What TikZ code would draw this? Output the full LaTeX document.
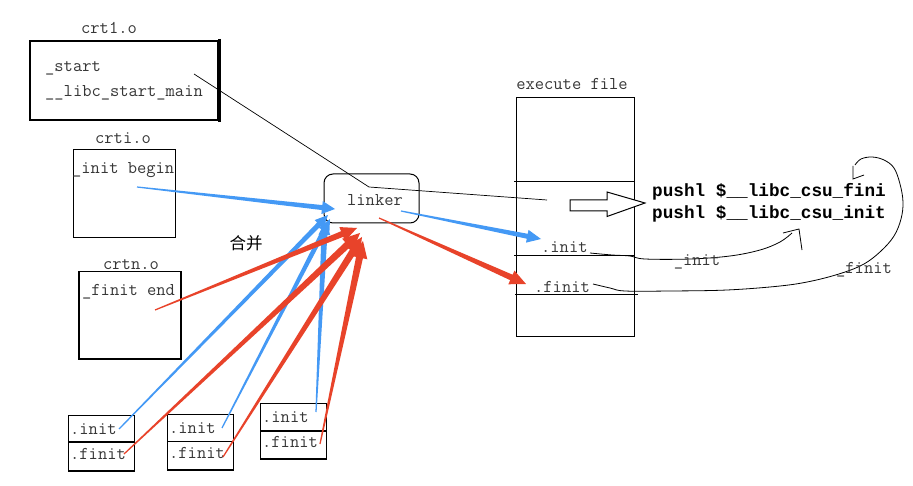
\documentclass[tikz,border=0pt]{standalone}
\usepackage{fontspec}
\newfontfamily\cjk{Noto Sans CJK SC}
\newfontfamily\pushfont{Liberation Mono}
\usetikzlibrary{calc}
\definecolor{arrblue}{RGB}{68,153,245}
\definecolor{arrred}{RGB}{232,67,42}
\definecolor{txtgray}{RGB}{55,55,55}
% #1 start, #2 tip, #3 colour, #4 shaft half width, #5 head length, #6 head half width
\newcommand\taper[6]{%
  \path ($(#2)!#5!(#1)$) coordinate (tpN);
  \fill[#3] ($(#1)!0.6pt!90:(#2)$) -- ($(tpN)!#4!90:(#2)$) -- ($(tpN)!#6!90:(#2)$) -- (#2)
    -- ($(tpN)!#6!-90:(#2)$) -- ($(tpN)!#4!-90:(#2)$) -- ($(#1)!0.6pt!-90:(#2)$) -- cycle;
}
\begin{document}
\begin{tikzpicture}[x=1pt,y=-1pt,
  box/.style={draw, line width=1.3pt, inner sep=0pt},
  lbl/.style={inner sep=0pt, text=txtgray, font=\ttfamily\fontsize{18}{20}\selectfont},
  thinln/.style={draw, line width=0.7pt},
  hand/.style={draw, line width=0.8pt, smooth, tension=0.6}]
\useasboundingbox (0,0) rectangle (913,486);
\fill[white] (0,0) rectangle (913,486);

% crt1.o
\node[lbl] (t1) at (109,28) {crt1.o};
\node[box, line width=2pt, minimum width=188pt, minimum height=79pt] (crt1) at (124,80.5) {};
\draw[line width=3pt] ($(crt1.north east)+(0,-1)$) -- ($(crt1.south east)+(0,1)$);
\node[lbl, anchor=west] (st) at (45,68) {\_start};
\node[lbl, anchor=west] (lsm) at (45,93) {\_\_libc\_start\_main};

% crti.o
\node[lbl] (t2) at (123,138) {crti.o};
\node[box, minimum width=102pt, minimum height=88pt] (crti) at (124.5,193.5) {};
\node[lbl, anchor=west] (ib) at (72,170) {\_init begin};

% crtn.o
\node[lbl] (t3) at (131,265) {crtn.o};
\node[box, minimum width=102pt, minimum height=87.5pt] (crtn) at (130,315.25) {};
\node[lbl, anchor=west] (fe) at (82,292) {\_finit end};

% small boxes
\node[box, minimum width=66pt, minimum height=26.5pt] (b1i) at (101.5,428.75) {};
\node[box, minimum width=66pt, minimum height=29pt] (b1f) at (101.5,456.5) {};
\node[lbl, anchor=west] (b1it) at (70,429) {.init};
\node[lbl, anchor=west] (b1ft) at (70,454) {.finit};

\node[box, minimum width=66pt, minimum height=27pt] (b2i) at (200.5,428) {};
\node[box, minimum width=66pt, minimum height=28.5pt] (b2f) at (200.5,455.75) {};
\node[lbl, anchor=west] (b2it) at (169,428) {.init};
\node[lbl, anchor=west] (b2ft) at (169,453) {.finit};

\node[box, minimum width=66pt, minimum height=27.5pt] (b3i) at (293.5,417.25) {};
\node[box, minimum width=66pt, minimum height=28pt] (b3f) at (293.5,445) {};
\node[lbl, anchor=west] (b3it) at (262,417) {.init};
\node[lbl, anchor=west] (b3ft) at (262,442) {.finit};

% linker
\node[draw, line width=1pt, rounded corners=9pt, minimum width=95pt, minimum height=49pt, inner sep=0pt] (lk) at (371.5,198.5) {};
\node[lbl] (lkt) at (375,200) {linker};

% execute file
\node[lbl] (t4) at (572,84) {execute file};
\node[draw, line width=1pt, minimum width=118pt, minimum height=239pt, inner sep=0pt] (exe) at (575,217.5) {};
\coordinate (e1a) at (514,182); \coordinate (e1b) at (634,182);
\coordinate (e2a) at (514,255.5); \coordinate (e2b) at (634,255.5);
\coordinate (e3a) at (515,295); \coordinate (e3b) at (638,295);
\draw[line width=1pt] (e1a) -- (e1b);
\draw[line width=1pt] (e2a) -- (e2b);
\draw[line width=1pt] (e3a) -- (e3b);
\node[lbl, anchor=west] (eit) at (541,247) {.init};
\node[lbl, anchor=west] (eft) at (534,287) {.finit};

% thin black line crt1 -> linker -> exe
\coordinate (c1s) at (194,74);
\coordinate (lkA) at (369,187);
\coordinate (lkB) at (547,200);
\draw[thinln] (c1s) -- (lkA) -- (lkB);

% hollow arrow
\draw[line width=1pt, fill=white] (570,200) -- (607,200) -- (607,192) -- (645,203) -- (607,216.5) -- (607,211) -- (570,211) -- cycle;

% pushl texts
\node[anchor=west, inner sep=0pt, font=\pushfont\bfseries\fontsize{17.7}{20}\selectfont] (p1) at (652,192) {pushl \$\_\_libc\_csu\_fini};
\node[anchor=west, inner sep=0pt, font=\pushfont\bfseries\fontsize{17.7}{20}\selectfont] (p2) at (652,214) {pushl \$\_\_libc\_csu\_init};

% merge label
\node[inner sep=0pt, font=\cjk\fontsize{16.5}{18}\selectfont] (hb) at (246,243) {合并};

% tapered arrows: start/end coordinates
\coordinate (s1) at (137,187);   \coordinate (e1) at (335,209);
\coordinate (s2) at (119,429);   \coordinate (e2) at (328,215);
\coordinate (s3) at (222,428);   \coordinate (e3) at (330,219);
\coordinate (s4) at (316,412);   \coordinate (e4) at (325,222);
\coordinate (s5) at (401,211);   \coordinate (e5) at (541,239);
\coordinate (r1) at (155,310);   \coordinate (f1) at (357,228);
\coordinate (r2) at (124,454);   \coordinate (f2) at (360,233);
\coordinate (r3) at (223,457);   \coordinate (f3) at (362,237);
\coordinate (r4) at (320,444);   \coordinate (f4) at (363,241);
\coordinate (r5) at (379,218);   \coordinate (f5) at (526,284);

\taper{s1}{e1}{arrblue}{2.5pt}{13pt}{6.5pt}
\taper{s2}{e2}{arrblue}{2.5pt}{13pt}{6pt}
\taper{s3}{e3}{arrblue}{2.5pt}{13pt}{6pt}
\taper{s4}{e4}{arrblue}{3pt}{13pt}{6pt}
\taper{s5}{e5}{arrblue}{2.5pt}{14pt}{6.5pt}
\taper{r1}{f1}{arrred}{3pt}{16pt}{7.5pt}
\taper{r2}{f2}{arrred}{3.5pt}{17pt}{8pt}
\taper{r3}{f3}{arrred}{3.5pt}{17pt}{8pt}
\taper{r4}{f4}{arrred}{3.5pt}{17pt}{8pt}
\taper{r5}{f5}{arrred}{3pt}{16pt}{7.5pt}

% hand-drawn curves
\coordinate (ic0) at (590,253);
\draw[hand] plot coordinates {(ic0) (612,255) (630,256) (645,259) (690,259) (730,256) (760,250) (780,242) (792,233)};
\coordinate (ih1) at (783,233); \coordinate (ih2) at (799,229); \coordinate (ih3) at (802,250);
\draw[line width=0.8pt] (ih1) -- (ih2) -- (ih3);
\node[lbl] (il) at (697,262) {\_init};

\coordinate (fc0) at (593,284);
\draw[hand] plot coordinates {(fc0) (610,288) (625,291) (670,291) (727,290) (780,286) (812,281) (842,273) (864,264) (881,251) (894,236) (901,219) (903,202) (900,184) (894,168) (884,160) (872,157) (861,159) (855,165)};
\coordinate (fh1) at (853,166); \coordinate (fh2) at (853,179); \coordinate (fh3) at (864,175);
\draw[line width=0.8pt] (fh1) -- (fh2) -- (fh3);
\node[lbl] (fl) at (864,270) {\_finit};
\end{tikzpicture}
\end{document}
